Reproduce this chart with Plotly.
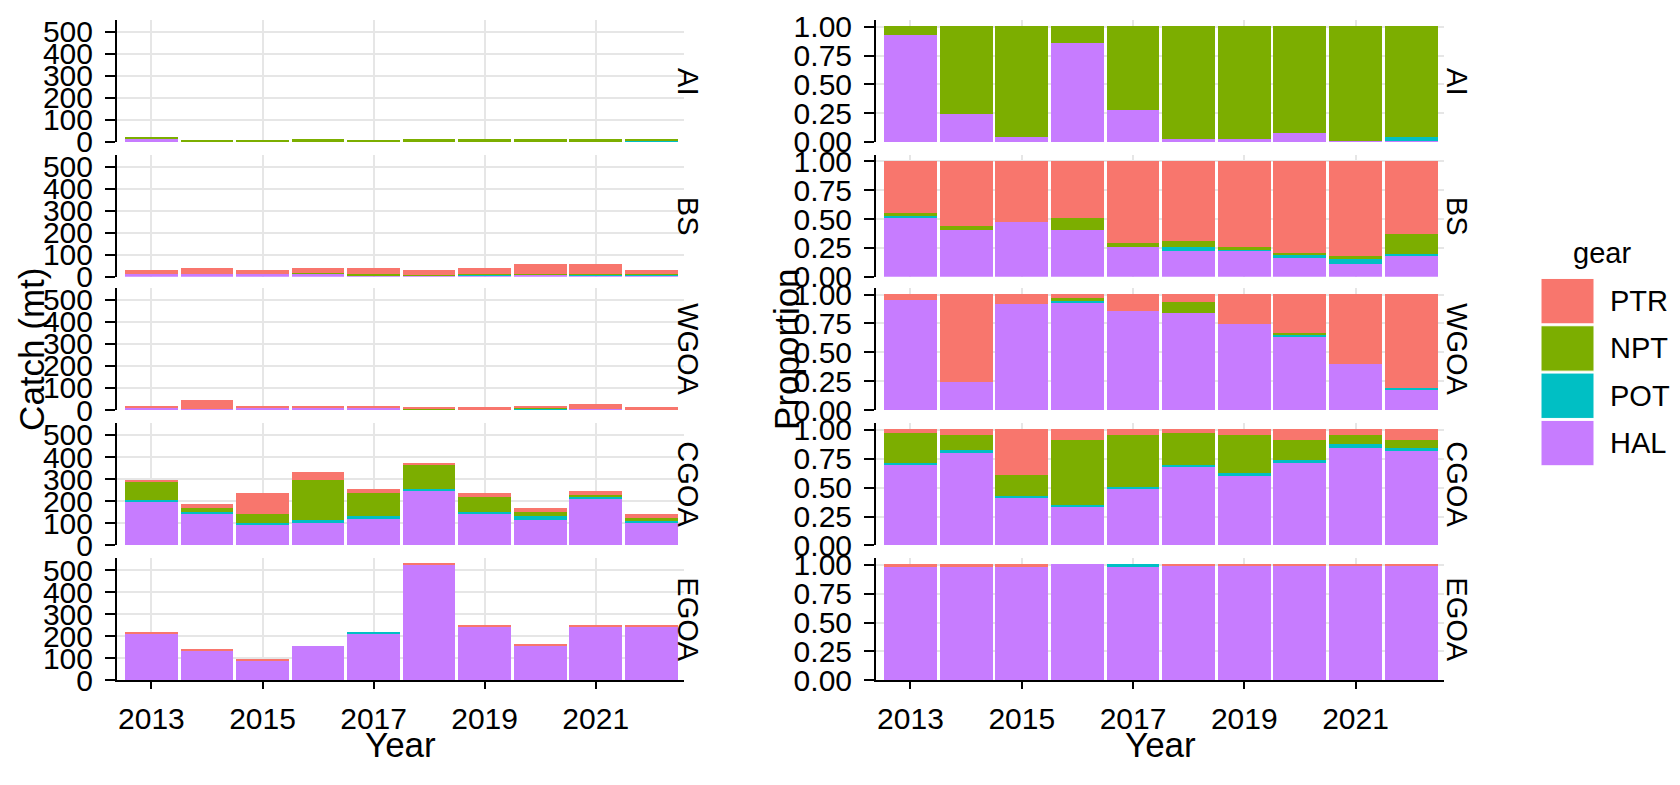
import numpy as np
import plotly.graph_objects as go
from plotly.subplots import make_subplots

# ---------------- data ----------------
years = [2013, 2014, 2015, 2016, 2017, 2018, 2019, 2020, 2021, 2022]
regions = ["AI", "BS", "WGOA", "CGOA", "EGOA"]
stack_order = ["HAL", "POT", "NPT", "PTR"]      # bottom -> top
legend_order = ["PTR", "NPT", "POT", "HAL"]
gear_colors = {"PTR": "#F8766D", "NPT": "#7CAE00", "POT": "#00BFC4", "HAL": "#C77CFF"}

# Catch (mt) by gear, left panel
catch_AI = {
    "HAL": [13, 1.5, 0.3, 1, 1.5, 0.3, 0.3, 1, 0.1, 0.2],
    "POT": [0, 0, 0, 0, 0, 0, 0, 0, 0, 5],
    "NPT": [9, 5.5, 5.7, 12, 4.5, 13.7, 13.7, 13, 13.9, 8.8],
    "PTR": [0, 0, 0, 0, 0, 0, 0, 0, 0, 0],
}
catch_BS = {
    "HAL": [14, 14, 13, 14, 7, 6, 7, 10, 7, 6],
    "POT": [0.5, 0, 0, 0, 0, 1, 6, 1, 5, 5],
    "NPT": [0.5, 1.5, 0, 4, 5, 1, 0.5, 1, 1, 1],
    "PTR": [16, 24.5, 18, 22, 28, 23, 26.5, 47, 46, 19],
}
catch_WGOA = {
    "HAL": [9, 5, 9, 10, 10, 1, 2, 1, 3, 2],
    "POT": [0, 0, 0, 0, 0, 0, 0, 7, 0, 0],
    "NPT": [0, 0, 0, 1, 0, 7, 0, 1, 0, 0],
    "PTR": [6, 38, 6, 4, 5, 7, 13, 6, 22, 13],
}
catch_CGOA = {
    "HAL": [198, 142, 94, 104, 122, 248, 142, 112, 209, 101],
    "POT": [8, 7, 7, 8, 8, 7, 7, 18, 9, 8],
    "NPT": [78, 21, 39, 184, 107, 108, 69, 18, 10, 12],
    "PTR": [10, 18, 97, 37, 18, 7, 19, 21, 18, 18],
}
catch_EGOA = {
    "HAL": [211, 134, 88, 151, 210, 522, 240, 155, 240, 240],
    "POT": [0, 0, 0, 0, 8, 0, 0, 0, 0, 0],
    "NPT": [0, 0, 0, 0, 0, 0, 0, 0, 0, 0],
    "PTR": [5, 5, 5, 0, 0, 5, 6, 5, 6, 6],
}

# Proportion by gear, right panel
prop_AI = {
    "HAL": [0.927, 0.243, 0.042, 0.855, 0.277, 0.025, 0.025, 0.078, 0.008, 0.010],
    "POT": [0, 0, 0, 0, 0, 0, 0, 0, 0, 0.035],
    "NPT": [0.073, 0.757, 0.958, 0.145, 0.723, 0.975, 0.975, 0.922, 0.992, 0.955],
    "PTR": [0, 0, 0, 0, 0, 0, 0, 0, 0, 0],
}
prop_BS = {
    "HAL": [0.511, 0.404, 0.478, 0.404, 0.258, 0.222, 0.222, 0.171, 0.115, 0.188],
    "POT": [0.019, 0, 0, 0, 0, 0.036, 0.020, 0.017, 0.037, 0.014],
    "NPT": [0.020, 0.040, 0, 0.107, 0.040, 0.054, 0.016, 0.020, 0.033, 0.169],
    "PTR": [0.450, 0.556, 0.522, 0.489, 0.702, 0.688, 0.742, 0.792, 0.815, 0.629],
}
prop_WGOA = {
    "HAL": [0.948, 0.246, 0.914, 0.931, 0.857, 0.837, 0.745, 0.633, 0.395, 0.175],
    "POT": [0, 0, 0, 0.012, 0, 0, 0, 0.015, 0, 0.015],
    "NPT": [0, 0, 0, 0.023, 0, 0.094, 0, 0.022, 0, 0],
    "PTR": [0.052, 0.754, 0.086, 0.034, 0.143, 0.069, 0.255, 0.330, 0.605, 0.810],
}
prop_CGOA = {
    "HAL": [0.696, 0.803, 0.409, 0.330, 0.493, 0.677, 0.606, 0.715, 0.840, 0.822],
    "POT": [0.017, 0.017, 0.017, 0.020, 0.014, 0.017, 0.017, 0.017, 0.037, 0.014],
    "NPT": [0.254, 0.130, 0.180, 0.563, 0.443, 0.273, 0.327, 0.180, 0.073, 0.076],
    "PTR": [0.033, 0.050, 0.394, 0.087, 0.050, 0.033, 0.050, 0.088, 0.050, 0.088],
}
prop_EGOA = {
    "HAL": [0.985, 0.985, 0.985, 1.0, 0.985, 0.99, 0.99, 0.99, 0.99, 0.99],
    "POT": [0, 0, 0, 0, 0.015, 0, 0, 0, 0, 0],
    "NPT": [0, 0, 0, 0, 0, 0, 0, 0, 0, 0],
    "PTR": [0.015, 0.015, 0.015, 0, 0, 0.01, 0.01, 0.01, 0.01, 0.01],
}

catch_by_region = {"AI": catch_AI, "BS": catch_BS, "WGOA": catch_WGOA,
                   "CGOA": catch_CGOA, "EGOA": catch_EGOA}
prop_by_region = {"AI": prop_AI, "BS": prop_BS, "WGOA": prop_WGOA,
                  "CGOA": prop_CGOA, "EGOA": prop_EGOA}

x_ticks = [2013, 2015, 2017, 2019, 2021]
catch_ticks = [0, 100, 200, 300, 400, 500]
prop_ticks = [0, 0.25, 0.5, 0.75, 1.0]
prop_ticktext = ["0.00", "0.25", "0.50", "0.75", "1.00"]

# ---------------- layout geometry ----------------
W, H = 1680, 785
FONT = "Liberation Sans, Arial, sans-serif"
left_dom = [117 / W, 684 / W]
right_dom = [876 / W, 1444 / W]
row_px = [(10.6, 136.7), (150, 276.3), (288, 414.3), (428, 554.5), (568, 694)]
row_dom = [[1 - b / H, 1 - t / H] for (t, b) in row_px]

fig = make_subplots(rows=5, cols=2)

for r, reg in enumerate(regions, start=1):
    cdat = catch_by_region[reg]
    pdat = prop_by_region[reg]
    ptot = np.sum([np.array(pdat[g], dtype=float) for g in stack_order], axis=0)
    for g in stack_order:
        fig.add_trace(go.Bar(x=years, y=cdat[g], width=0.95,
                             marker=dict(color=gear_colors[g], line=dict(width=0)),
                             name=g, showlegend=False), row=r, col=1)
        frac = np.array(pdat[g], dtype=float) / ptot
        fig.add_trace(go.Bar(x=years, y=frac, width=0.95,
                             marker=dict(color=gear_colors[g], line=dict(width=0)),
                             name=g, showlegend=False), row=r, col=2)

grid_col = "#E6E6E6"
tick_font = dict(family=FONT, size=30, color="black")
for r in range(1, 6):
    bottom = (r == 5)
    for c in (1, 2):
        fig.update_xaxes(row=r, col=c,
                         domain=left_dom if c == 1 else right_dom,
                         range=[2012.38, 2022.59], tickvals=x_ticks,
                         showgrid=True, gridcolor=grid_col, gridwidth=1.5,
                         zeroline=False,
                         showticklabels=bottom, showline=bottom,
                         linecolor="black", linewidth=2,
                         ticks="outside" if bottom else "", ticklen=7, tickwidth=2,
                         tickcolor="black", ticklabelstandoff=4,
                         tickfont=tick_font)
    fig.update_yaxes(row=r, col=1, domain=row_dom[r - 1], range=[0, 553],
                     tickvals=catch_ticks, showgrid=True, gridcolor=grid_col, gridwidth=1.5,
                     zeroline=False, showline=True, linecolor="black", linewidth=2,
                     ticks="outside", ticklen=10, tickwidth=2, tickcolor="black",
                     ticklabelstandoff=6, tickfont=tick_font)
    fig.update_yaxes(row=r, col=2, domain=row_dom[r - 1], range=[0, 1.056],
                     tickvals=prop_ticks, ticktext=prop_ticktext,
                     showgrid=True, gridcolor=grid_col, gridwidth=1.5,
                     zeroline=False, showline=True, linecolor="black", linewidth=2,
                     ticks="outside", ticklen=10, tickwidth=2, tickcolor="black",
                     ticklabelstandoff=6, tickfont=tick_font)

annotations = []
# strip labels
for i, reg in enumerate(regions):
    t, b = row_px[i]
    yc = 1 - (t + b) / 2 / H
    for xc in (688 / W, 1457 / W):
        annotations.append(dict(text=reg, x=xc, y=yc, xref="paper", yref="paper",
                                showarrow=False, textangle=90,
                                font=dict(family=FONT, size=29, color="black"),
                                xanchor="center", yanchor="middle"))
# axis titles
annotations += [
    dict(text="Catch (mt)", x=32 / W, y=1 - 352 / H, textangle=-90),
    dict(text="Proportion", x=787 / W, y=1 - 352 / H, textangle=-90),
    dict(text="Year", x=400 / W, y=1 - 761 / H, textangle=0),
    dict(text="Year", x=1160 / W, y=1 - 761 / H, textangle=0),
]
for a in annotations[-4:]:
    a.update(xref="paper", yref="paper", showarrow=False,
             xanchor="center", yanchor="middle",
             font=dict(family=FONT, size=35, color="black"))

# legend (drawn manually to match ggplot key size)
shapes = []
annotations.append(dict(text="gear", x=1602 / W, y=1 - 252 / H, xref="paper", yref="paper",
                        showarrow=False, xanchor="center", yanchor="middle",
                        font=dict(family=FONT, size=29, color="black")))
key_top, key_h, key_gap = 278, 47, 2
for i, g in enumerate(legend_order):
    y0 = key_top + i * (key_h + key_gap)
    shapes.append(dict(type="rect", xref="paper", yref="paper",
                       x0=1541 / W, x1=1594 / W, y0=1 - (y0 + key_h) / H, y1=1 - y0 / H,
                       fillcolor=gear_colors[g], line=dict(color="white", width=1)))
    annotations.append(dict(text=g, x=1608 / W, y=1 - (y0 + key_h / 2) / H,
                            xref="paper", yref="paper", showarrow=False,
                            xanchor="left", yanchor="middle",
                            font=dict(family=FONT, size=29, color="black")))

fig.update_layout(width=W, height=H, barmode="stack", bargap=0,
                  margin=dict(l=0, r=0, t=0, b=0),
                  paper_bgcolor="white", plot_bgcolor="white",
                  showlegend=False, annotations=annotations, shapes=shapes,
                  font=dict(family=FONT, color="black"))

fig.write_html("out.html",
               config={"displayModeBar": False},
               post_script="document.body.style.margin='0px';"
                           "document.body.style.padding='0px';"
                           "document.body.style.overflow='hidden';")
